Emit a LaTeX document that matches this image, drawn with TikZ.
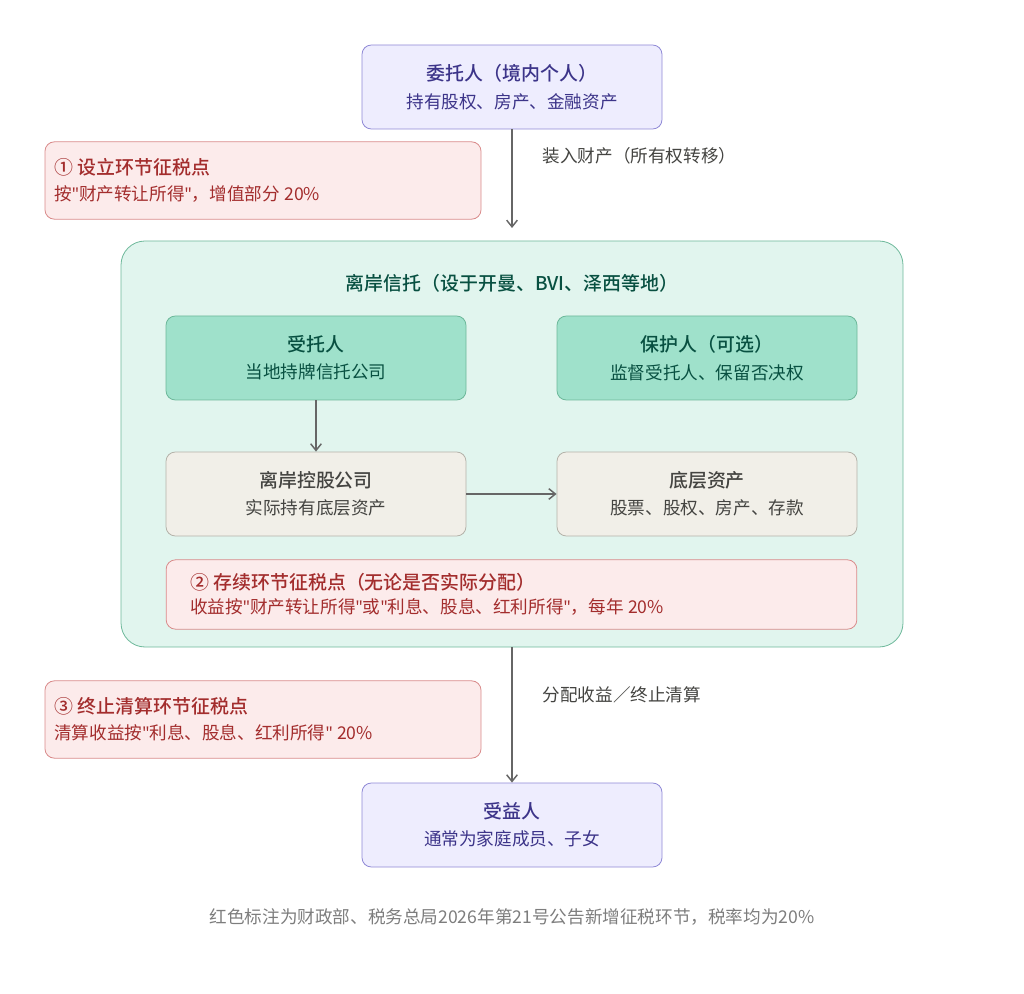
\documentclass[tikz,border=0pt]{standalone}
\usepackage{fontspec}
\setmainfont{Noto Sans CJK SC}[BoldFont={* Medium}]
\newfontfamily\latinqt{Noto Sans}
\usetikzlibrary{arrows.meta}

\definecolor{purFill}{HTML}{EEEDFE}
\definecolor{purLine}{HTML}{8F89D6}
\definecolor{purText}{HTML}{3C3489}
\definecolor{redFill}{HTML}{FCEBEB}
\definecolor{redLine}{HTML}{D98A8A}
\definecolor{redText}{HTML}{A32D2D}
\definecolor{grnFill}{HTML}{E1F5EE}
\definecolor{grnLine}{HTML}{6DB89A}
\definecolor{grnDeep}{HTML}{9FE1CB}
\definecolor{grnText}{HTML}{085041}
\definecolor{begFill}{HTML}{F1EFE8}
\definecolor{begLine}{HTML}{B4B2A9}
\definecolor{begText}{HTML}{444441}
\definecolor{arrGray}{HTML}{666666}

\newcommand{\hd}[1]{{\bfseries\fontsize{14.2}{17}\selectfont #1}}
\newcommand{\subtx}[1]{{\fontsize{13.2}{16}\selectfont #1}}
\newcommand{\qt}{{\latinqt\char34}}

\tikzset{
	box/.style={draw, rounded corners=7pt, line width=0.6pt, align=center,
		inner sep=0pt, minimum width=225pt, minimum height=63pt},
	person/.style={box, fill=purFill, draw=purLine, text=purText},
	trustee/.style={box, fill=grnDeep, draw=grnLine, text=grnText},
	holding/.style={box, fill=begFill, draw=begLine, text=begText},
	taxnote/.style={draw=redLine, fill=redFill, text=redText, rounded corners=7pt,
		line width=0.6pt, align=left, inner sep=0pt},
	flow/.style={draw=arrGray, line width=1.1pt, -{Straight Barb[length=5pt,width=8pt]}},
	small/.style={font=\fontsize{13.2}{16}\selectfont}
}

\begin{document}
\begin{tikzpicture}[x=0.75pt,y=-0.75pt]

\useasboundingbox (0,0) rectangle (1024,994);

%Trust container
\node[draw=grnLine, fill=grnFill, rounded corners=18pt, line width=0.6pt,
	minimum width=586.5pt, minimum height=304.5pt, inner sep=0pt] (trust) at (512,444) {};
\node[text=grnText] (trustTitle) at (512,283) {\hd{离岸信托（设于开曼、BVI、泽西等地）}};

%Parties
\node[person] (settlor) at (512,87) {\hd{委托人（境内个人）}\\[7pt]\subtx{持有股权、房产、金融资产}};
\node[person] (benef) at (512,825) {\hd{受益人}\\[7pt]\subtx{通常为家庭成员、子女}};

\node[trustee] (trustee) at (316,358) {\hd{受托人}\\[7pt]\subtx{当地持牌信托公司}};
\node[trustee] (protector) at (707,358) {\hd{保护人（可选）}\\[7pt]\subtx{监督受托人、保留否决权}};
\node[holding] (holdco) at (316,494) {\hd{离岸控股公司}\\[7pt]\subtx{实际持有底层资产}};
\node[holding] (assets) at (707,494) {\hd{底层资产}\\[7pt]\subtx{股票、股权、房产、存款}};

%Tax points
\node[taxnote, text width=327pt, minimum height=58pt] (tax1) at (263,180.5)
	{\hspace*{7pt}\hd{① 设立环节征税点}\\[6pt]\hspace*{7pt}\subtx{按\qt 财产转让所得\qt，增值部分 20\%}};
\node[taxnote, text width=518pt, minimum height=52pt] (tax2) at (511.5,594.5)
	{\hspace*{18pt}\hd{② 存续环节征税点（无论是否实际分配）}\\[4pt]\hspace*{18pt}\subtx{收益按\qt 财产转让所得\qt 或\qt 利息、股息、红利所得\qt，每年 20\%}};
\node[taxnote, text width=327pt, minimum height=58pt] (tax3) at (263,719.5)
	{\hspace*{7pt}\hd{③ 终止清算环节征税点}\\[6pt]\hspace*{7pt}\subtx{清算收益按\qt 利息、股息、红利所得\qt{} 20\%}};

%Connectors
\coordinate (trustTop) at (512,228);
\draw[flow] (settlor) -- (trustTop);
\draw[flow] (trust.south) -- (benef);
\draw[flow] (trustee) -- (holdco);
\draw[flow] (holdco) -- (assets);

\node[anchor=west, text=begText, small] (lblIn) at (538,156) {装入财产（所有权转移）};
\node[anchor=west, text=begText, small] (lblOut) at (538,695) {分配收益／终止清算};

%Footnote
\node[text=arrGray!85, small] (foot) at (512,917) {红色标注为财政部、税务总局2026年第21号公告新增征税环节，税率均为20\%};

\end{tikzpicture}
\end{document}
